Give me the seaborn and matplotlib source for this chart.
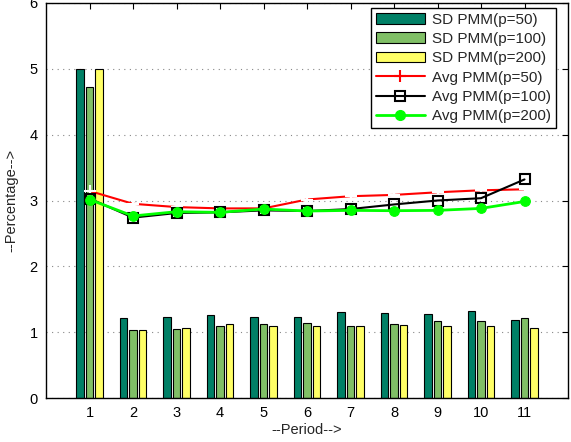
import matplotlib
matplotlib.use("Agg")
import matplotlib.pyplot as plt
import seaborn as sns
import numpy as np
import pandas as pd
from matplotlib.patches import Patch
from matplotlib.lines import Line2D

periods = [1, 2, 3, 4, 5, 6, 7, 8, 9, 10, 11]
sd_p50 = [5.00, 1.21, 1.225, 1.255, 1.225, 1.23, 1.305, 1.285, 1.28, 1.315, 1.185]
sd_p100 = [4.73, 1.04, 1.05, 1.10, 1.13, 1.135, 1.10, 1.13, 1.165, 1.175, 1.21]
sd_p200 = [5.00, 1.03, 1.065, 1.12, 1.10, 1.09, 1.10, 1.11, 1.09, 1.09, 1.07]
avg_p50 = [3.145, 2.95, 2.90, 2.88, 2.88, 3.015, 3.065, 3.085, 3.125, 3.155, 3.17]
avg_p100 = [3.03, 2.74, 2.81, 2.82, 2.85, 2.84, 2.87, 2.94, 3.00, 3.035, 3.32]
avg_p200 = [3.015, 2.765, 2.83, 2.82, 2.87, 2.84, 2.85, 2.845, 2.85, 2.88, 2.985]
bar_labels = ["SD PMM(p=50)", "SD PMM(p=100)", "SD PMM(p=200)"]
line_labels = ["Avg PMM(p=50)", "Avg PMM(p=100)", "Avg PMM(p=200)"]
bar_colors = ["#008066", "#80BF66", "#FFFF66"]

sns.set_style("white")
plt.rcParams["font.family"] = ["Liberation Sans", "DejaVu Sans"]

fig = plt.figure(figsize=(5.71, 4.42), dpi=100)
ax = fig.add_axes([46 / 571, 1 - 398 / 442, (568 - 46) / 571, (398 - 3) / 442])

df = pd.DataFrame({
    "Period": periods * 3,
    "Value": sd_p50 + sd_p100 + sd_p200,
    "Series": [bar_labels[0]] * 11 + [bar_labels[1]] * 11 + [bar_labels[2]] * 11,
})
sns.barplot(data=df, x="Period", y="Value", hue="Series", hue_order=bar_labels,
            palette=bar_colors, native_scale=True, width=0.66, gap=0.18,
            edgecolor="black", linewidth=0.8, saturation=1, legend=False, ax=ax,
            errorbar=None)

red_kw = dict(color="red", marker="+", markersize=8, markeredgewidth=1.5,
              linewidth=1.5, linestyle="-")
blk_kw = dict(color="black", marker="s", markersize=6.5, markerfacecolor="none",
              markeredgecolor="black", markeredgewidth=1.5, linewidth=1.5, linestyle="-")
grn_kw = dict(color="#00FF00", marker="o", markersize=7, markerfacecolor="#00FF00",
              markeredgecolor="#00FF00", linewidth=2, linestyle="-")

sns.lineplot(x=periods, y=avg_p50, ax=ax, **red_kw)
sns.lineplot(x=periods, y=avg_p100, ax=ax, **blk_kw)
sns.lineplot(x=periods, y=avg_p200, ax=ax, **grn_kw)

ax.set_xlim(0, 12)
ax.set_ylim(0, 6)
ax.set_xticks(periods)
ax.set_xticklabels([str(p) for p in periods])
ax.set_yticks([0, 1, 2, 3, 4, 5, 6])
ax.tick_params(direction="in", top=True, right=True, length=4, width=0.8,
               labelsize=10.5, colors="black", pad=6)
ax.yaxis.grid(True, linestyle=(0, (1, 4)), color="#888888", linewidth=0.8)
ax.xaxis.grid(False)
for s in ax.spines.values():
    s.set_color("black")
    s.set_linewidth(1.0)
ax.set_xlabel("--Period-->", fontsize=10.5, labelpad=2)
ax.set_ylabel("--Percentage-->", fontsize=10.5, labelpad=8)

handles = [Patch(facecolor=c, edgecolor="black", linewidth=0.8) for c in bar_colors]
handles += [Line2D([], [], **red_kw), Line2D([], [], **blk_kw), Line2D([], [], **grn_kw)]
leg = ax.legend(handles, bar_labels + line_labels, loc="upper right", fontsize=11,
                bbox_to_anchor=(556 / 571, 1 - 8 / 442), bbox_transform=fig.transFigure,
                frameon=True, fancybox=False, edgecolor="black", framealpha=1,
                borderaxespad=0, handlelength=3.2, labelspacing=0.35,
                handletextpad=0.5, borderpad=0.3)
leg.get_frame().set_linewidth(1.0)

fig.savefig("out.png", dpi=100)
